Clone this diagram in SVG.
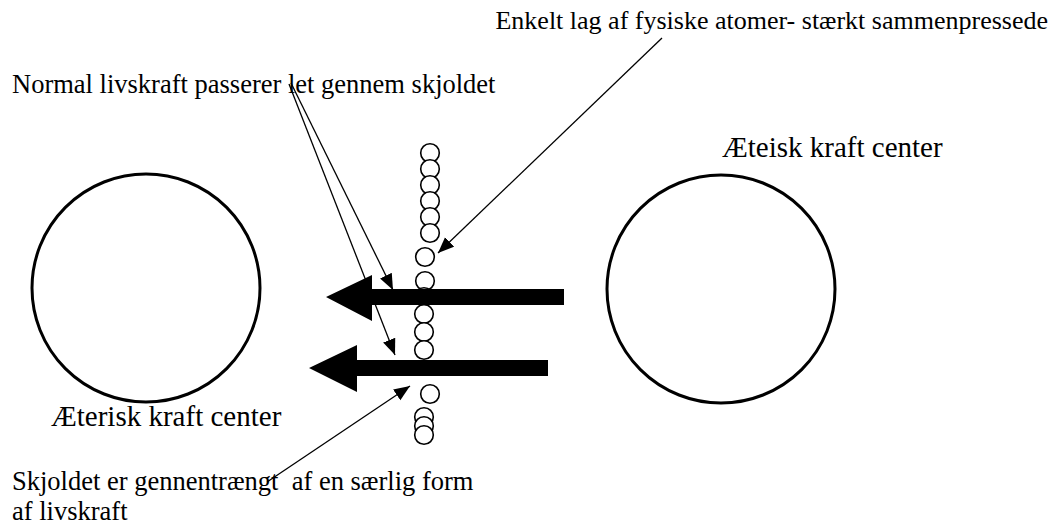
<svg xmlns="http://www.w3.org/2000/svg" width="1051" height="525" viewBox="0 0 1051 525">
<style>
  text { font-family: "Liberation Serif", "Times New Roman", serif; fill: #000; }
  .big { fill: #fff; stroke: #000; stroke-width: 3; }
  .atom { fill: #fff; stroke: #000; stroke-width: 1.6; }
  .ptr { fill: none; stroke: #000; stroke-width: 1.3; marker-end: url(#head); }
  .flow { fill: #000; stroke: none; }
</style>
<defs>
  <marker id="head" markerUnits="userSpaceOnUse" markerWidth="18" markerHeight="14" refX="16" refY="6.5" orient="auto">
    <path d="M0,0 L16,6.5 L0,13 z" fill="#000"/>
  </marker>
</defs>
<rect width="1051" height="525" fill="#fff"/>

<g id="left-center">
  <circle class="big" cx="146" cy="288" r="114"/>
  <text x="51" y="426" font-size="29">Æterisk kraft center</text>
</g>

<g id="right-center">
  <circle class="big" cx="721" cy="289" r="114"/>
  <text x="722" y="157" font-size="29">Æteisk kraft center</text>
</g>

<g id="shield">
  <circle class="atom" cx="430" cy="153" r="9.3"/>
  <circle class="atom" cx="430" cy="169" r="9.3"/>
  <circle class="atom" cx="430" cy="185" r="9.3"/>
  <circle class="atom" cx="430" cy="201" r="9.3"/>
  <circle class="atom" cx="430" cy="217" r="9.3"/>
  <circle class="atom" cx="430" cy="233" r="9.3"/>
  <circle class="atom" cx="425" cy="257" r="9.3"/>
  <circle class="atom" cx="425" cy="281" r="9.3"/>
  <circle class="atom" cx="424" cy="297" r="9.3"/>
  <circle class="atom" cx="424" cy="314" r="9.3"/>
  <circle class="atom" cx="424" cy="332" r="9.3"/>
  <circle class="atom" cx="424" cy="350" r="9.3"/>
  <circle class="atom" cx="430" cy="394" r="9.3"/>
  <circle class="atom" cx="424" cy="417" r="9.3"/>
  <circle class="atom" cx="424" cy="426" r="9.3"/>
  <circle class="atom" cx="424" cy="435" r="9.3"/>
</g>

<g id="connectors">
  <polygon id="flow-upper" class="flow" points="564,289 372,289 372,275 326,297 372,321 372,305 564,305"/>
  <polygon id="flow-lower" class="flow" points="548,360 357,360 357,345 309,368 357,392 357,376 548,376"/>
  <line class="ptr" x1="291" y1="83" x2="393" y2="290"/>
  <line class="ptr" x1="289" y1="84" x2="395" y2="355"/>
  <line class="ptr" x1="662" y1="38" x2="438" y2="253"/>
  <line class="ptr" x1="267" y1="482" x2="410" y2="386"/>
</g>

<g id="label-normal">
  <text x="12" y="93" font-size="26.5">Normal livskraft passerer let gennem skjoldet</text>
</g>
<g id="label-layer">
  <text x="1048" y="29" font-size="26" text-anchor="end">Enkelt lag af fysiske atomer- stærkt sammenpressede</text>
</g>
<g id="label-special">
  <text x="12" y="490" font-size="26.5" xml:space="preserve">Skjoldet er gennentrængt  af en særlig form</text>
  <text x="12" y="520" font-size="26.5">af livskraft</text>
</g>
</svg>
